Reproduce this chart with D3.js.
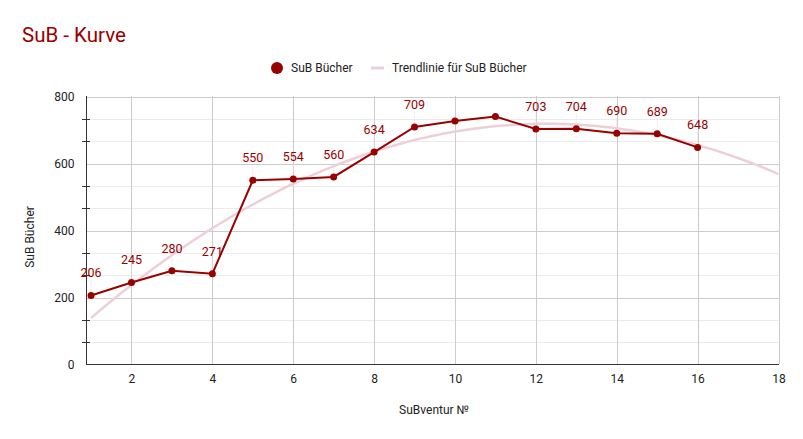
<!DOCTYPE html>
<html>
<head>
<meta charset="utf-8">
<script src="https://cdn.jsdelivr.net/npm/d3@7"></script>
<style>
  body { margin: 0; background: #fff; }
  svg { font-family: Roboto, Arial, sans-serif; }
</style>
</head>
<body>
<script>
const inventur = [1, 2, 3, 4, 5, 6, 7, 8, 9, 10, 11, 12, 13, 14, 15, 16];
const buecher = [206, 245, 280, 271, 550, 554, 560, 634, 709, 727, 740, 703, 704, 690, 689, 648];
const hiddenLabels = [10, 11];
const yTicks = [0, 200, 400, 600, 800];
const xTicks = [2, 4, 6, 8, 10, 12, 14, 16, 18];

const w = 803;
const h = 439;
const red = '#990000';
const trendColor = '#edd0d7';

const svg = d3.select('body').append('svg')
  .attr('width', w)
  .attr('height', h);

const x = d3.scaleLinear().domain([0.875, 18]).range([86, 778.5]);
const y = d3.scaleLinear().domain([0, 800]).range([364.5, 96.5]);

// minor + major horizontal grid
const minor = d3.range(0, 801, 800 / 12);
svg.append('g').selectAll('line')
  .data(minor.filter(v => yTicks.indexOf(Math.round(v)) < 0))
  .join('line')
  .attr('x1', 86).attr('x2', 779)
  .attr('y1', d => Math.round(y(d)) + 0.5).attr('y2', d => Math.round(y(d)) + 0.5)
  .attr('stroke', '#ebebeb');

svg.append('g').selectAll('line')
  .data(yTicks.slice(1))
  .join('line')
  .attr('x1', 86).attr('x2', 779)
  .attr('y1', d => Math.round(y(d)) + 0.5).attr('y2', d => Math.round(y(d)) + 0.5)
  .attr('stroke', '#cccccc');

svg.append('g').selectAll('line')
  .data(xTicks)
  .join('line')
  .attr('x1', d => Math.round(x(d)) + 0.5).attr('x2', d => Math.round(x(d)) + 0.5)
  .attr('y1', 96).attr('y2', 364)
  .attr('stroke', '#cccccc');

// axes
const xAxis = d3.axisBottom(x).tickValues(xTicks).tickSize(0).tickPadding(10);
svg.append('g')
  .attr('transform', 'translate(0,364.5)')
  .call(xAxis)
  .call(g => g.select('.domain').attr('stroke', '#333').attr('d', 'M86,0H779'))
  .call(g => g.selectAll('text').attr('font-size', 12).attr('fill', '#222').attr('font-family', 'Roboto, Arial, sans-serif'));

const yAxis = d3.axisLeft(y).tickValues(yTicks).tickSize(0).tickPadding(12);
svg.append('g')
  .attr('transform', 'translate(86.5,0)')
  .call(yAxis)
  .call(g => g.select('.domain').attr('stroke', '#333').attr('d', 'M0,96V364.5'))
  .call(g => g.selectAll('text').attr('font-size', 12).attr('fill', '#222').attr('font-family', 'Roboto, Arial, sans-serif'));

// minor ticks on y axis
svg.append('g').selectAll('line')
  .data(minor.filter(v => v > 0 && yTicks.indexOf(Math.round(v)) < 0))
  .join('line')
  .attr('x1', 82).attr('x2', 90)
  .attr('y1', d => Math.round(y(d)) + 0.5).attr('y2', d => Math.round(y(d)) + 0.5)
  .attr('stroke', '#333');

// quadratic trend (least squares)
function polyfit2(xs, ys) {
  const n = xs.length;
  let s = [0, 0, 0, 0, 0], t = [0, 0, 0];
  for (let i = 0; i < n; i++) {
    for (let k = 0; k < 5; k++) s[k] += Math.pow(xs[i], k);
    for (let k = 0; k < 3; k++) t[k] += ys[i] * Math.pow(xs[i], k);
  }
  const A = [[s[0], s[1], s[2], t[0]], [s[1], s[2], s[3], t[1]], [s[2], s[3], s[4], t[2]]];
  for (let i = 0; i < 3; i++) {
    for (let j = i + 1; j < 3; j++) {
      const f = A[j][i] / A[i][i];
      for (let k = i; k < 4; k++) A[j][k] -= f * A[i][k];
    }
  }
  const c = [0, 0, 0];
  for (let i = 2; i >= 0; i--) {
    let v = A[i][3];
    for (let k = i + 1; k < 3; k++) v -= A[i][k] * c[k];
    c[i] = v / A[i][i];
  }
  return c;
}
const coef = polyfit2(inventur, buecher);
const trendX = d3.range(1, 18.001, 0.1);
svg.append('path')
  .datum(trendX)
  .attr('fill', 'none')
  .attr('stroke', trendColor)
  .attr('stroke-width', 2.5)
  .attr('d', d3.line().x(d => x(d)).y(d => y(coef[0] + coef[1] * d + coef[2] * d * d)));

// leader lines
const data = inventur.map((v, i) => ({ x: v, y: buecher[i] }));
const labelled = data.filter(d => hiddenLabels.indexOf(d.x) < 0);
svg.append('g').selectAll('line')
  .data(labelled)
  .join('line')
  .attr('x1', d => x(d.x)).attr('x2', d => x(d.x))
  .attr('y1', d => y(d.y) - 15).attr('y2', d => y(d.y) - 3)
  .attr('stroke', '#f0d8dd')
  .attr('stroke-dasharray', '1,1');

// series
svg.append('path')
  .datum(data)
  .attr('fill', 'none')
  .attr('stroke', red)
  .attr('stroke-width', 2)
  .attr('d', d3.line().x(d => x(d.x)).y(d => y(d.y)));

svg.append('g').selectAll('circle')
  .data(data)
  .join('circle')
  .attr('cx', d => x(d.x))
  .attr('cy', d => y(d.y))
  .attr('r', 3.5)
  .attr('fill', red);

svg.append('g').selectAll('text')
  .data(labelled)
  .join('text')
  .attr('x', d => x(d.x))
  .attr('y', d => y(d.y) - 18)
  .attr('text-anchor', 'middle')
  .attr('font-size', 12.5)
  .attr('fill', red)
  .text(d => d.y);

// title
svg.append('text')
  .attr('x', 22).attr('y', 42)
  .attr('font-size', 20.5)
  .attr('fill', red)
  .text('SuB - Kurve');

// legend
svg.append('circle').attr('cx', 277).attr('cy', 68).attr('r', 6).attr('fill', red);
svg.append('text').attr('x', 291).attr('y', 72).attr('font-size', 12).attr('fill', '#222').text('SuB Bücher');
svg.append('line').attr('x1', 371).attr('x2', 384).attr('y1', 68).attr('y2', 68)
  .attr('stroke', trendColor).attr('stroke-width', 3);
svg.append('text').attr('x', 392).attr('y', 72).attr('font-size', 12).attr('fill', '#222').text('Trendlinie für SuB Bücher');

// axis titles
svg.append('text')
  .attr('x', 434).attr('y', 414)
  .attr('text-anchor', 'middle')
  .attr('font-size', 12).attr('fill', '#222')
  .text('SuBventur №');

svg.append('text')
  .attr('transform', 'translate(34,237) rotate(-90)')
  .attr('text-anchor', 'middle')
  .attr('font-size', 12).attr('fill', '#222')
  .text('SuB Bücher');
</script>
</body>
</html>
